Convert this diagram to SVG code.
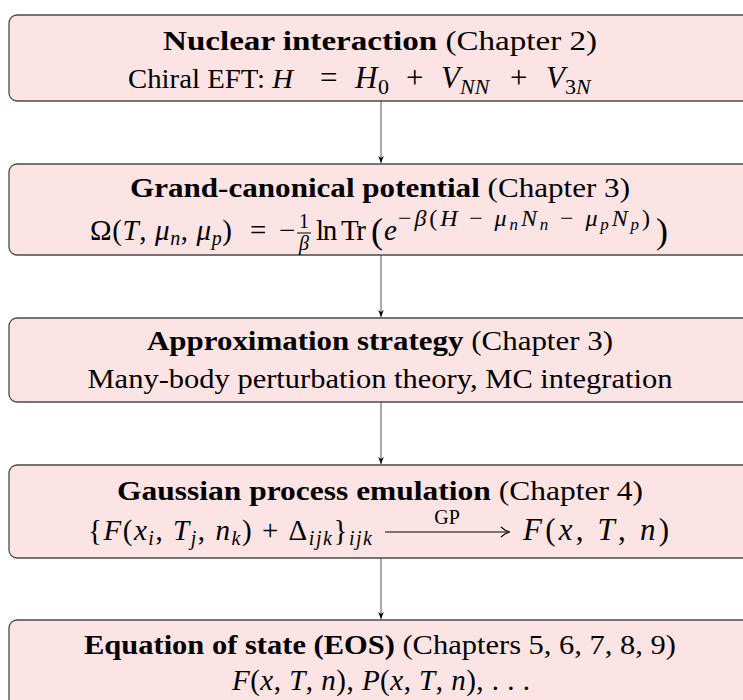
<svg xmlns="http://www.w3.org/2000/svg" width="743" height="700" viewBox="0 0 743 700">
<defs>
<style>
.box{fill:#fde4e4;stroke:#4a4a4a;stroke-width:1.3}
.t{font-family:"Liberation Serif","Times New Roman",serif;font-size:27px;fill:#000}
.m{font-size:29px}
.mm{font-size:31px}
.b{font-weight:bold}
.i{font-style:italic}
.s{font-size:20px}
.ss{font-size:22px}
.conn{stroke:#555;stroke-width:1;fill:none}
</style>
<marker id="ah" viewBox="0 0 10 10" refX="10" refY="5" markerWidth="7" markerHeight="7" markerUnits="userSpaceOnUse" orient="auto">
<path d="M0,1 L10,5 L0,9 L3,5 Z" fill="#000"/>
</marker>
</defs>
<g id="connectors">
<line class="conn" x1="381" y1="101" x2="381" y2="163" marker-end="url(#ah)"/>
<line class="conn" x1="381" y1="255" x2="381" y2="317" marker-end="url(#ah)"/>
<line class="conn" x1="381" y1="402" x2="381" y2="464" marker-end="url(#ah)"/>
<line class="conn" x1="381" y1="558" x2="381" y2="619" marker-end="url(#ah)"/>
</g>
<g id="node1">
<rect class="box" x="9" y="15" width="745" height="86" rx="8"/>
<text class="t" x="380" y="50" text-anchor="middle" textLength="434" lengthAdjust="spacingAndGlyphs"><tspan class="b">Nuclear interaction</tspan> (Chapter 2)</text>
<text class="t" x="128" y="88" textLength="165" lengthAdjust="spacingAndGlyphs">Chiral EFT: <tspan class="i">H</tspan></text>
<text class="t mm" x="320" y="88">=</text>
<text class="t mm i" x="355" y="88">H</text>
<text class="t ss" x="378" y="94">0</text>
<text class="t mm" x="406" y="88">+</text>
<text class="t mm i" x="441" y="88">V</text>
<text class="t ss i" x="460" y="94">NN</text>
<text class="t mm" x="510" y="88">+</text>
<text class="t mm i" x="546" y="88">V</text>
<text class="t ss" x="565" y="94">3<tspan class="i">N</tspan></text>
</g>
<g id="node2">
<rect class="box" x="9" y="164" width="745" height="91" rx="8"/>
<text class="t" x="380" y="197" text-anchor="middle" textLength="500" lengthAdjust="spacingAndGlyphs"><tspan class="b">Grand-canonical potential</tspan> (Chapter 3)</text>
<text class="t m" x="90" y="240" textLength="142" lengthAdjust="spacing">Ω(<tspan class="i">T</tspan>, <tspan class="i">μ</tspan><tspan class="s i" dy="5">n</tspan><tspan dy="-5">, </tspan><tspan class="i">μ</tspan><tspan class="s i" dy="5">p</tspan><tspan dy="-5">)</tspan></text>
<text class="t m" x="250" y="240">=</text>
<text class="t m" x="279" y="240">−</text>
<text class="t s" x="304" y="228" text-anchor="middle">1</text>
<line x1="297" y1="233" x2="311" y2="233" stroke="#000" stroke-width="1"/>
<text class="t s i" x="304" y="250" text-anchor="middle">β</text>
<text class="t m" x="316" y="240" textLength="50" lengthAdjust="spacing">ln Tr</text>
<text class="t" x="371" y="243" style="font-size:36px">(</text>
<text class="t m i" x="384" y="240">e</text>
<text class="t" x="398" y="226" style="font-size:24px" textLength="252" lengthAdjust="spacing">−<tspan class="i">β</tspan>(<tspan class="i">H</tspan> − <tspan class="i">μ</tspan><tspan class="i" style="font-size:17px" dy="4">n</tspan><tspan class="i" dy="-4">N</tspan><tspan class="i" style="font-size:17px" dy="4">n</tspan><tspan dy="-4"> − </tspan><tspan class="i">μ</tspan><tspan class="i" style="font-size:17px" dy="4">p</tspan><tspan class="i" dy="-4">N</tspan><tspan class="i" style="font-size:17px" dy="4">p</tspan><tspan dy="-4">)</tspan></text>
<text class="t" x="656" y="243" style="font-size:36px">)</text>
</g>
<g id="node3">
<rect class="box" x="9" y="318" width="745" height="84" rx="8"/>
<text class="t" x="380" y="350" text-anchor="middle" textLength="466" lengthAdjust="spacingAndGlyphs"><tspan class="b">Approximation strategy</tspan> (Chapter 3)</text>
<text class="t" x="380" y="388" text-anchor="middle" textLength="585" lengthAdjust="spacingAndGlyphs">Many-body perturbation theory, MC integration</text>
</g>
<g id="node4">
<rect class="box" x="9" y="465" width="745" height="93" rx="8"/>
<text class="t" x="380" y="500" text-anchor="middle" textLength="526" lengthAdjust="spacingAndGlyphs"><tspan class="b">Gaussian process emulation</tspan> (Chapter 4)</text>
<text class="t m" x="88" y="540" textLength="284" lengthAdjust="spacing">{<tspan class="i">F</tspan>(<tspan class="i">x</tspan><tspan class="s i" dy="5">i</tspan><tspan dy="-5">, </tspan><tspan class="i">T</tspan><tspan class="s i" dy="5">j</tspan><tspan dy="-5">, </tspan><tspan class="i">n</tspan><tspan class="s i" dy="5">k</tspan><tspan dy="-5">) + Δ</tspan><tspan class="s i" dy="5">ijk</tspan><tspan dy="-5">}</tspan><tspan class="s i" dy="5">ijk</tspan></text>
<text class="t s" x="447" y="524" text-anchor="middle">GP</text>
<line x1="385" y1="532" x2="508" y2="532" stroke="#000" stroke-width="1.1"/>
<path d="M501,527 Q505,531 510,532 Q505,533 501,537" fill="none" stroke="#000" stroke-width="1.1"/>
<text class="t mm" x="523" y="540" textLength="146" lengthAdjust="spacing"><tspan class="i">F</tspan>(<tspan class="i">x</tspan>, <tspan class="i">T</tspan>, <tspan class="i">n</tspan>)</text>
</g>
<g id="node5">
<rect class="box" x="9" y="620" width="745" height="95" rx="8"/>
<text class="t" x="380" y="654" text-anchor="middle" textLength="592" lengthAdjust="spacingAndGlyphs"><tspan class="b">Equation of state (EOS)</tspan> (Chapters 5, 6, 7, 8, 9)</text>
<text class="t m" x="232" y="690" textLength="298" lengthAdjust="spacing"><tspan class="i">F</tspan>(<tspan class="i">x</tspan>, <tspan class="i">T</tspan>, <tspan class="i">n</tspan>), <tspan class="i">P</tspan>(<tspan class="i">x</tspan>, <tspan class="i">T</tspan>, <tspan class="i">n</tspan>), . . .</text>
</g>
</svg>
